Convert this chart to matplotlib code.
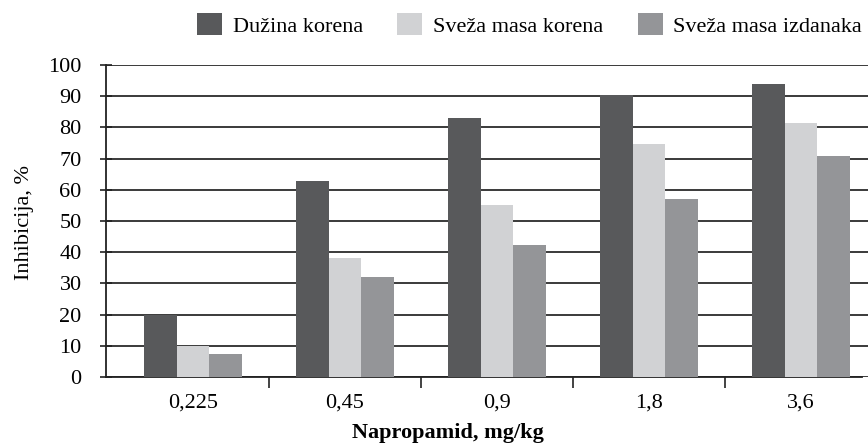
import matplotlib
matplotlib.use("Agg")
import matplotlib.pyplot as plt
from matplotlib.patches import Patch
import numpy as np

categories = ["0,225", "0,45", "0,9", "1,8", "3,6"]
series_names = ["Dužina korena", "Sveža masa korena", "Sveža masa izdanaka"]
duzina_korena = [20.0, 62.9, 82.9, 90.5, 94.0]
sveza_masa_korena = [10.0, 38.1, 55.2, 74.7, 81.3]
sveza_masa_izdanaka = [7.4, 32.0, 42.2, 56.9, 70.7]
y_ticks = [0, 10, 20, 30, 40, 50, 60, 70, 80, 90, 100]
x_label = "Napropamid, mg/kg"
y_label = "Inhibicija, %"

colors = ["#58595b", "#d1d2d4", "#949598"]
FAM = ['Liberation Serif', 'DejaVu Serif']
plt.rcParams['font.family'] = FAM

W, H = 868, 446
fig = plt.figure(figsize=(W / 100, H / 100), dpi=100)
ax = fig.add_axes([106 / W, 1 - 377 / H, (868 - 106) / W, (377 - 65) / H])

x = np.arange(len(categories))
bw = 0.215
series = [duzina_korena, sveza_masa_korena, sveza_masa_izdanaka]
for i, (vals, c) in enumerate(zip(series, colors)):
    ax.bar(x + (i - 1) * bw, vals, width=bw, color=c, zorder=3, linewidth=0)

ax.set_ylim(0, 100)
ax.set_xlim(-0.572, 4.441)
ax.set_yticks(y_ticks)
ax.set_yticklabels([str(v) for v in y_ticks], fontsize=16, family=FAM)
ax.yaxis.grid(True, color="#2b2b2b", linewidth=1.3, zorder=0)
ax.set_axisbelow(True)

ax.set_xticks(x)
ax.set_xticklabels(categories, fontsize=16, family=FAM)
ax.set_xticks(x[:-1] + 0.5, minor=True)
ax.tick_params(axis='x', which='major', length=0, pad=12)
ax.tick_params(axis='x', which='minor', length=8, width=1.2, direction='out', color="#222222")
ax.tick_params(axis='y', which='major', length=9, width=1.2, direction='inout', color="#222222", pad=13)

for s in ["top", "right"]:
    ax.spines[s].set_visible(False)
for s in ["left", "bottom"]:
    ax.spines[s].set_linewidth(1.3)
    ax.spines[s].set_color("#222222")
ax.spines["bottom"].set_bounds(-0.572, 4.40)

fig.text(24 / W, 1 - 222 / H, y_label, rotation=90, ha="center", va="center", fontsize=16, family=FAM)
fig.text(448 / W, 1 - 433 / H, x_label, ha="center", va="center", fontsize=16, fontweight="bold", family=FAM)

handles = [Patch(facecolor=c, edgecolor="none") for c in colors]
fig.legend(handles, series_names, loc="center left", bbox_to_anchor=(197 / W, 1 - 25 / H),
           ncol=3, frameon=False, prop=dict(family=FAM, size=16), handlelength=1.13, handleheight=1.13,
           handletextpad=0.47, columnspacing=1.55, borderpad=0, borderaxespad=0)

fig.savefig("out.png", dpi=100)
